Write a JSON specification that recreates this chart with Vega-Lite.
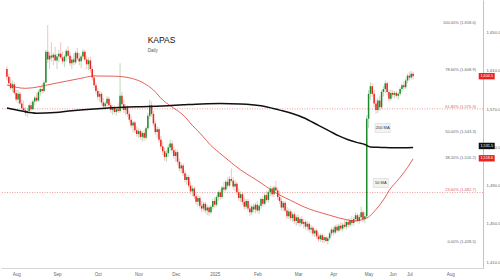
{
"$schema":"https://vega.github.io/schema/vega-lite/v6.json",
"width":500,"height":280,
"autosize":{"type":"fit","contains":"padding"},
"padding":{"left":0,"top":0,"right":0,"bottom":4},
"background":"white",
"config":{"view":{"stroke":null},"font":"Liberation Sans"},
"datasets":{
"candles":[
{"t":0,"o":1612,"h":1615,"l":1600,"c":1604},{"t":1,"o":1604,"h":1607,"l":1594,"c":1597},{"t":2,"o":1597,"h":1603,"l":1590,"c":1592},{"t":3,"o":1592,"h":1600,"l":1588,"c":1596},{"t":4,"o":1596,"h":1598,"l":1585,"c":1587},{"t":5,"o":1587,"h":1590,"l":1578,"c":1580},{"t":6,"o":1580,"h":1590,"l":1576,"c":1586},{"t":7,"o":1586,"h":1588,"l":1574,"c":1576},{"t":8,"o":1576,"h":1580,"l":1568,"c":1571},{"t":9,"o":1571,"h":1579,"l":1567,"c":1569},
{"t":10,"o":1569,"h":1572,"l":1563,"c":1566},{"t":11,"o":1566,"h":1571,"l":1562,"c":1568},{"t":12,"o":1568,"h":1576,"l":1566,"c":1574},{"t":13,"o":1574,"h":1578,"l":1568,"c":1570},{"t":14,"o":1570,"h":1580,"l":1569,"c":1578},{"t":15,"o":1578,"h":1584,"l":1574,"c":1582},{"t":16,"o":1582,"h":1587,"l":1577,"c":1579},{"t":17,"o":1579,"h":1590,"l":1578,"c":1588},{"t":18,"o":1588,"h":1594,"l":1584,"c":1591},{"t":19,"o":1591,"h":1597,"l":1586,"c":1589},
{"t":20,"o":1589,"h":1600,"l":1587,"c":1598},{"t":21,"o":1598,"h":1632,"l":1597,"c":1630},{"t":22,"o":1630,"h":1658,"l":1618,"c":1622},{"t":23,"o":1622,"h":1630,"l":1612,"c":1626},{"t":24,"o":1626,"h":1640,"l":1620,"c":1624},{"t":25,"o":1624,"h":1629,"l":1616,"c":1627},{"t":26,"o":1627,"h":1635,"l":1620,"c":1621},{"t":27,"o":1621,"h":1628,"l":1612,"c":1625},{"t":28,"o":1625,"h":1632,"l":1619,"c":1628},{"t":29,"o":1628,"h":1640,"l":1622,"c":1624},
{"t":30,"o":1624,"h":1630,"l":1617,"c":1620},{"t":31,"o":1620,"h":1627,"l":1614,"c":1625},{"t":32,"o":1625,"h":1633,"l":1620,"c":1631},{"t":33,"o":1631,"h":1636,"l":1622,"c":1626},{"t":34,"o":1626,"h":1630,"l":1615,"c":1618},{"t":35,"o":1618,"h":1625,"l":1612,"c":1622},{"t":36,"o":1622,"h":1628,"l":1616,"c":1619},{"t":37,"o":1619,"h":1631,"l":1617,"c":1629},{"t":38,"o":1629,"h":1634,"l":1621,"c":1623},{"t":39,"o":1623,"h":1629,"l":1616,"c":1620},
{"t":40,"o":1620,"h":1627,"l":1613,"c":1625},{"t":41,"o":1625,"h":1633,"l":1622,"c":1630},{"t":42,"o":1630,"h":1632,"l":1620,"c":1622},{"t":43,"o":1622,"h":1626,"l":1612,"c":1617},{"t":44,"o":1617,"h":1624,"l":1611,"c":1621},{"t":45,"o":1621,"h":1625,"l":1608,"c":1612},{"t":46,"o":1612,"h":1615,"l":1600,"c":1603},{"t":47,"o":1603,"h":1606,"l":1592,"c":1595},{"t":48,"o":1595,"h":1598,"l":1586,"c":1589},{"t":49,"o":1589,"h":1592,"l":1580,"c":1583},
{"t":50,"o":1583,"h":1589,"l":1578,"c":1586},{"t":51,"o":1586,"h":1588,"l":1574,"c":1577},{"t":52,"o":1577,"h":1582,"l":1570,"c":1573},{"t":53,"o":1573,"h":1578,"l":1569,"c":1576},{"t":54,"o":1576,"h":1584,"l":1573,"c":1581},{"t":55,"o":1581,"h":1583,"l":1572,"c":1574},{"t":56,"o":1574,"h":1577,"l":1566,"c":1569},{"t":57,"o":1569,"h":1574,"l":1564,"c":1571},{"t":58,"o":1571,"h":1574,"l":1565,"c":1567},{"t":59,"o":1567,"h":1572,"l":1563,"c":1570},
{"t":60,"o":1570,"h":1576,"l":1566,"c":1568},{"t":61,"o":1568,"h":1618,"l":1566,"c":1584},{"t":62,"o":1584,"h":1588,"l":1572,"c":1575},{"t":63,"o":1575,"h":1580,"l":1566,"c":1569},{"t":64,"o":1569,"h":1575,"l":1564,"c":1572},{"t":65,"o":1572,"h":1574,"l":1562,"c":1565},{"t":66,"o":1565,"h":1568,"l":1556,"c":1559},{"t":67,"o":1559,"h":1563,"l":1550,"c":1553},{"t":68,"o":1553,"h":1558,"l":1546,"c":1556},{"t":69,"o":1556,"h":1558,"l":1545,"c":1548},
{"t":70,"o":1548,"h":1552,"l":1541,"c":1544},{"t":71,"o":1544,"h":1550,"l":1540,"c":1547},{"t":72,"o":1547,"h":1549,"l":1538,"c":1541},{"t":73,"o":1541,"h":1547,"l":1536,"c":1545},{"t":74,"o":1545,"h":1548,"l":1537,"c":1540},{"t":75,"o":1540,"h":1552,"l":1538,"c":1550},{"t":76,"o":1550,"h":1566,"l":1548,"c":1563},{"t":77,"o":1563,"h":1580,"l":1560,"c":1574},{"t":78,"o":1574,"h":1578,"l":1562,"c":1565},{"t":79,"o":1565,"h":1568,"l":1552,"c":1555},
{"t":80,"o":1555,"h":1558,"l":1543,"c":1546},{"t":81,"o":1546,"h":1552,"l":1540,"c":1549},{"t":82,"o":1549,"h":1551,"l":1535,"c":1538},{"t":83,"o":1538,"h":1542,"l":1528,"c":1531},{"t":84,"o":1531,"h":1536,"l":1522,"c":1526},{"t":85,"o":1526,"h":1530,"l":1516,"c":1520},{"t":86,"o":1520,"h":1527,"l":1515,"c":1524},{"t":87,"o":1524,"h":1533,"l":1520,"c":1530},{"t":88,"o":1530,"h":1538,"l":1526,"c":1534},{"t":89,"o":1534,"h":1537,"l":1524,"c":1527},
{"t":90,"o":1527,"h":1531,"l":1518,"c":1521},{"t":91,"o":1521,"h":1528,"l":1515,"c":1525},{"t":92,"o":1525,"h":1527,"l":1512,"c":1515},{"t":93,"o":1515,"h":1518,"l":1505,"c":1508},{"t":94,"o":1508,"h":1514,"l":1503,"c":1511},{"t":95,"o":1511,"h":1513,"l":1500,"c":1503},{"t":96,"o":1503,"h":1506,"l":1493,"c":1496},{"t":97,"o":1496,"h":1502,"l":1491,"c":1499},{"t":98,"o":1499,"h":1501,"l":1487,"c":1490},{"t":99,"o":1490,"h":1494,"l":1481,"c":1484},
{"t":100,"o":1484,"h":1490,"l":1479,"c":1487},{"t":101,"o":1487,"h":1489,"l":1476,"c":1479},{"t":102,"o":1479,"h":1483,"l":1470,"c":1473},{"t":103,"o":1473,"h":1480,"l":1468,"c":1477},{"t":104,"o":1477,"h":1479,"l":1466,"c":1469},{"t":105,"o":1469,"h":1474,"l":1462,"c":1466},{"t":106,"o":1466,"h":1473,"l":1463,"c":1471},{"t":107,"o":1471,"h":1473,"l":1461,"c":1464},{"t":108,"o":1464,"h":1470,"l":1459,"c":1467},{"t":109,"o":1467,"h":1469,"l":1458,"c":1462},
{"t":110,"o":1462,"h":1470,"l":1460,"c":1468},{"t":111,"o":1468,"h":1476,"l":1465,"c":1474},{"t":112,"o":1474,"h":1478,"l":1467,"c":1470},{"t":113,"o":1470,"h":1480,"l":1468,"c":1478},{"t":114,"o":1478,"h":1485,"l":1474,"c":1483},{"t":115,"o":1483,"h":1486,"l":1475,"c":1478},{"t":116,"o":1478,"h":1490,"l":1476,"c":1488},{"t":117,"o":1488,"h":1494,"l":1483,"c":1486},{"t":118,"o":1486,"h":1496,"l":1484,"c":1494},{"t":119,"o":1494,"h":1499,"l":1487,"c":1490},
{"t":120,"o":1490,"h":1500,"l":1488,"c":1497},{"t":121,"o":1497,"h":1508,"l":1493,"c":1495},{"t":122,"o":1495,"h":1499,"l":1486,"c":1489},{"t":123,"o":1489,"h":1496,"l":1484,"c":1492},{"t":124,"o":1492,"h":1494,"l":1480,"c":1483},{"t":125,"o":1483,"h":1487,"l":1474,"c":1477},{"t":126,"o":1477,"h":1484,"l":1473,"c":1481},{"t":127,"o":1481,"h":1483,"l":1470,"c":1473},{"t":128,"o":1473,"h":1478,"l":1465,"c":1468},{"t":129,"o":1468,"h":1476,"l":1465,"c":1474},
{"t":130,"o":1474,"h":1476,"l":1463,"c":1466},{"t":131,"o":1466,"h":1470,"l":1458,"c":1462},{"t":132,"o":1462,"h":1470,"l":1459,"c":1468},{"t":133,"o":1468,"h":1471,"l":1462,"c":1465},{"t":134,"o":1465,"h":1472,"l":1461,"c":1470},{"t":135,"o":1470,"h":1474,"l":1462,"c":1464},{"t":136,"o":1464,"h":1471,"l":1460,"c":1469},{"t":137,"o":1469,"h":1478,"l":1466,"c":1476},{"t":138,"o":1476,"h":1479,"l":1468,"c":1471},{"t":139,"o":1471,"h":1482,"l":1469,"c":1480},
{"t":140,"o":1480,"h":1484,"l":1473,"c":1475},{"t":141,"o":1475,"h":1485,"l":1472,"c":1483},{"t":142,"o":1483,"h":1490,"l":1479,"c":1487},{"t":143,"o":1487,"h":1489,"l":1478,"c":1481},{"t":144,"o":1481,"h":1490,"l":1478,"c":1488},{"t":145,"o":1488,"h":1495,"l":1483,"c":1485},{"t":146,"o":1485,"h":1488,"l":1475,"c":1478},{"t":147,"o":1478,"h":1484,"l":1471,"c":1474},{"t":148,"o":1474,"h":1477,"l":1464,"c":1467},{"t":149,"o":1467,"h":1474,"l":1463,"c":1472},
{"t":150,"o":1472,"h":1474,"l":1462,"c":1464},{"t":151,"o":1464,"h":1468,"l":1455,"c":1458},{"t":152,"o":1458,"h":1466,"l":1455,"c":1463},{"t":153,"o":1463,"h":1465,"l":1453,"c":1456},{"t":154,"o":1456,"h":1462,"l":1452,"c":1460},{"t":155,"o":1460,"h":1463,"l":1450,"c":1453},{"t":156,"o":1453,"h":1459,"l":1448,"c":1457},{"t":157,"o":1457,"h":1460,"l":1449,"c":1451},{"t":158,"o":1451,"h":1457,"l":1447,"c":1455},{"t":159,"o":1455,"h":1458,"l":1448,"c":1450},
{"t":160,"o":1450,"h":1455,"l":1445,"c":1452},{"t":161,"o":1452,"h":1454,"l":1444,"c":1447},{"t":162,"o":1447,"h":1453,"l":1443,"c":1450},{"t":163,"o":1450,"h":1452,"l":1441,"c":1444},{"t":164,"o":1444,"h":1449,"l":1440,"c":1446},{"t":165,"o":1446,"h":1448,"l":1437,"c":1440},{"t":166,"o":1440,"h":1445,"l":1436,"c":1443},{"t":167,"o":1443,"h":1445,"l":1434,"c":1437},{"t":168,"o":1437,"h":1441,"l":1431,"c":1434},{"t":169,"o":1434,"h":1440,"l":1431,"c":1438},
{"t":170,"o":1438,"h":1440,"l":1430,"c":1433},{"t":171,"o":1433,"h":1438,"l":1430,"c":1436},{"t":172,"o":1436,"h":1437,"l":1431,"c":1432},{"t":173,"o":1432,"h":1437,"l":1428.5,"c":1435},{"t":174,"o":1435,"h":1442,"l":1433,"c":1440},{"t":175,"o":1440,"h":1446,"l":1437,"c":1444},{"t":176,"o":1444,"h":1447,"l":1438,"c":1441},{"t":177,"o":1441,"h":1449,"l":1439,"c":1447},{"t":178,"o":1447,"h":1450,"l":1441,"c":1443},{"t":179,"o":1443,"h":1450,"l":1441,"c":1448},
{"t":180,"o":1448,"h":1452,"l":1443,"c":1445},{"t":181,"o":1445,"h":1451,"l":1442,"c":1449},{"t":182,"o":1449,"h":1454,"l":1445,"c":1447},{"t":183,"o":1447,"h":1454,"l":1444,"c":1452},{"t":184,"o":1452,"h":1455,"l":1446,"c":1449},{"t":185,"o":1449,"h":1456,"l":1447,"c":1454},{"t":186,"o":1454,"h":1458,"l":1448,"c":1451},{"t":187,"o":1451,"h":1457,"l":1448,"c":1455},{"t":188,"o":1455,"h":1462,"l":1452,"c":1459},{"t":189,"o":1459,"h":1461,"l":1451,"c":1453},
{"t":190,"o":1453,"h":1460,"l":1450,"c":1457},{"t":191,"o":1457,"h":1468,"l":1454,"c":1462},{"t":192,"o":1462,"h":1464,"l":1452,"c":1455},{"t":193,"o":1455,"h":1462,"l":1451,"c":1458},{"t":194,"o":1458,"h":1564,"l":1456,"c":1560},{"t":195,"o":1560,"h":1590,"l":1550,"c":1586},{"t":196,"o":1586,"h":1598,"l":1580,"c":1594},{"t":197,"o":1594,"h":1597,"l":1583,"c":1586},{"t":198,"o":1586,"h":1590,"l":1572,"c":1576},{"t":199,"o":1576,"h":1580,"l":1565,"c":1569},
{"t":200,"o":1569,"h":1582,"l":1566,"c":1579},{"t":201,"o":1579,"h":1584,"l":1568,"c":1572},{"t":202,"o":1572,"h":1590,"l":1570,"c":1588},{"t":203,"o":1588,"h":1594,"l":1583,"c":1591},{"t":204,"o":1591,"h":1600,"l":1587,"c":1597},{"t":205,"o":1597,"h":1599,"l":1585,"c":1588},{"t":206,"o":1588,"h":1591,"l":1578,"c":1581},{"t":207,"o":1581,"h":1590,"l":1579,"c":1587},{"t":208,"o":1587,"h":1590,"l":1582,"c":1585},{"t":209,"o":1585,"h":1589,"l":1581,"c":1587},
{"t":210,"o":1587,"h":1589,"l":1582,"c":1584},{"t":211,"o":1584,"h":1588,"l":1580,"c":1586},{"t":212,"o":1586,"h":1593,"l":1584,"c":1591},{"t":213,"o":1591,"h":1597,"l":1588,"c":1595},{"t":214,"o":1595,"h":1599,"l":1590,"c":1593},{"t":215,"o":1593,"h":1602,"l":1591,"c":1600},{"t":216,"o":1600,"h":1607,"l":1597,"c":1605},{"t":217,"o":1605,"h":1609,"l":1600,"c":1603},{"t":218,"o":1603,"h":1610,"l":1601,"c":1607},{"t":219,"o":1607,"h":1609,"l":1601,"c":1604.5}
],
"ma50":[
{"t":0,"v":1595.3},{"t":10,"v":1591.8},{"t":26,"v":1597},{"t":40,"v":1602.3},{"t":47,"v":1604.7},{"t":58,"v":1604.5},{"t":67,"v":1602.3},{"t":74,"v":1597},{"t":79,"v":1590},{"t":84,"v":1579.6},{"t":90,"v":1571},{"t":95,"v":1563.9},{"t":100,"v":1553},{"t":105,"v":1543},{"t":110,"v":1532},{"t":116,"v":1522},{"t":121,"v":1514},{"t":126,"v":1506.4},{"t":132,"v":1499},{"t":137,"v":1492.8},{"t":142,"v":1486},{"t":147,"v":1480.2},{"t":153,"v":1474.5},{"t":158,"v":1469.7},{"t":163,"v":1465.5},{"t":168,"v":1462.4},{"t":174,"v":1459},{"t":179,"v":1456.2},{"t":184,"v":1454},{"t":187,"v":1453},{"t":191,"v":1454},{"t":195,"v":1457.2},{"t":199,"v":1465},{"t":203,"v":1475},{"t":207,"v":1487.5},{"t":210,"v":1494},{"t":213,"v":1501.1},{"t":216,"v":1509},{"t":219,"v":1518}
],
"ma200":[
{"t":0,"v":1571.2},{"t":8,"v":1568},{"t":16,"v":1565.7},{"t":26,"v":1566.5},{"t":35,"v":1568.4},{"t":45,"v":1570},{"t":53,"v":1571},{"t":70,"v":1572.5},{"t":84,"v":1573.3},{"t":95,"v":1574.5},{"t":105,"v":1575.5},{"t":115,"v":1576},{"t":126,"v":1575.5},{"t":137,"v":1573.5},{"t":147,"v":1569},{"t":153,"v":1566},{"t":160,"v":1561},{"t":168,"v":1553},{"t":174,"v":1547},{"t":179,"v":1542},{"t":184,"v":1538},{"t":189,"v":1535},{"t":193,"v":1533},{"t":196,"v":1530.5},{"t":202,"v":1530},{"t":208,"v":1529.5},{"t":214,"v":1529.5},{"t":219,"v":1530}
],
"fib":[
{"label":"100.00% (1,658.0)","p":1658.0,"kind":"std"},
{"label":"78.60% (1,608.9)","p":1608.9,"kind":"std"},
{"label":"61.80% (1,570.3)","p":1570.3,"kind":"key"},
{"label":"50.00% (1,543.3)","p":1543.3,"kind":"std"},
{"label":"38.20% (1,516.2)","p":1516.2,"kind":"std"},
{"label":"23.60% (1,482.7)","p":1482.7,"kind":"key"},
{"label":"0.00% (1,428.5)","p":1428.5,"kind":"std"}
],
"tags":[
{"v":1604.5,"kind":"last"},{"v":1531.5,"kind":"ma200"},{"v":1518.6,"kind":"ma50"}
],
"notes":[
{"name":"200 MA","t":202.6,"p":1550.3},{"name":"50 MA","t":201.6,"p":1492.8}
]
},
"layer":[
{"data":{"name":"fib"},"transform":[{"filter":"datum.kind=='std'"}],
 "mark":{"type":"rule","stroke":"#9a9a9a","strokeWidth":0.7,"strokeDash":[2,2]},
 "encoding":{
  "x":{"field":"t","type":"quantitative","scale":{"domain":[-0.5,254],"nice":false,"zero":false},
   "axis":{"title":null,"values":[5,27,49,71,91,112,135,157,176,195,208,217,239],
    "labelExpr":"['Aug','Sep','Oct','Nov','Dec','2025','Feb','Mar','Apr','May','Jun','Jul','Aug'][indexof([5,27,49,71,91,112,135,157,176,195,208,217,239], datum.value)]",
    "grid":false,"ticks":false,"domainColor":"#bbbbbb","domainWidth":0.6,"labelFontSize":4.5,"labelColor":"#666666","labelPadding":3,"labelFlush":false,"labelOverlap":false}},
  "y":{"field":"p","type":"quantitative","scale":{"domain":[1403.8,1684.2],"nice":false,"zero":false},
   "axis":{"title":null,"orient":"right","values":[1410,1420,1430,1440,1450,1460,1470,1480,1490,1500,1510,1520,1530,1540,1550,1560,1570,1580,1590,1600,1610,1620,1630,1640,1650,1660,1670,1680],
    "format":",.1f","grid":false,"ticks":false,"domainColor":"#999999","domainWidth":0.6,"labelFontSize":4.2,"labelColor":"#666666","labelPadding":3,"labelFlush":false,"labelOverlap":false}}
 }},
{"data":{"name":"fib"},"transform":[{"filter":"datum.kind=='key'"}],
 "mark":{"type":"rule","stroke":"#e57373","strokeWidth":0.7,"strokeDash":[1,1.5]},
 "encoding":{"y":{"field":"p","type":"quantitative"}}},
{"data":{"name":"fib"},
 "mark":{"type":"text","align":"right","baseline":"bottom","dy":-0.3,"fontSize":4},
 "encoding":{"x":{"datum":252.9},"y":{"field":"p","type":"quantitative"},"text":{"field":"label"},
  "color":{"condition":{"test":"datum.kind=='key'","value":"#e06060"},"value":"#666666"}}},
{"data":{"name":"candles"},
 "mark":{"type":"rule","strokeWidth":0.7},
 "encoding":{"x":{"field":"t","type":"quantitative"},"y":{"field":"l","type":"quantitative"},"y2":{"field":"h"},
  "color":{"condition":{"test":"datum.c>=datum.o","value":"#9ccc9f"},"value":"#f2a7a3"}}},
{"data":{"name":"candles"},
 "mark":{"type":"bar","size":1.5},
 "encoding":{"x":{"field":"t","type":"quantitative"},"y":{"field":"o","type":"quantitative"},"y2":{"field":"c"},
  "color":{"condition":{"test":"datum.c>=datum.o","value":"#1f8a2c"},"value":"#e8231d"}}},
{"data":{"name":"ma50"},
 "mark":{"type":"line","stroke":"#e0392f","strokeWidth":0.8,"interpolate":"monotone"},
 "encoding":{"x":{"field":"t","type":"quantitative"},"y":{"field":"v","type":"quantitative"}}},
{"data":{"name":"ma200"},
 "mark":{"type":"line","stroke":"#111111","strokeWidth":1.5,"interpolate":"monotone"},
 "encoding":{"x":{"field":"t","type":"quantitative"},"y":{"field":"v","type":"quantitative"}}},
{"data":{"name":"notes"},
 "mark":{"type":"point","shape":"M-1,-0.6H1V0.6H-1Z","size":225,"filled":true,"fill":"#f3f3f3","stroke":"#cccccc","strokeWidth":0.5,"opacity":1},
 "encoding":{"x":{"field":"t","type":"quantitative"},"y":{"field":"p","type":"quantitative"}}},
{"data":{"name":"notes"},
 "mark":{"type":"text","fontSize":4,"color":"#333333","align":"center","baseline":"middle"},
 "encoding":{"x":{"field":"t","type":"quantitative"},"y":{"field":"p","type":"quantitative"},"text":{"field":"name"}}},
{"data":{"name":"tags"},
 "mark":{"type":"point","shape":"M-1,-0.4H1V0.4H-1Z","size":256,"filled":true,"opacity":1,"strokeWidth":0},
 "encoding":{"x":{"datum":258.7},"y":{"field":"v","type":"quantitative"},
  "fill":{"condition":{"test":"datum.kind=='ma200'","value":"#111111"},"value":"#e8231d"}}},
{"data":{"name":"tags"},
 "mark":{"type":"text","fontSize":3.8,"color":"white","align":"center","baseline":"middle"},
 "encoding":{"x":{"datum":258.7},"y":{"field":"v","type":"quantitative"},"text":{"field":"v","type":"quantitative","format":",.1f"}}},
{"data":{"values":[{"txt":"KAPAS"}]},
 "mark":{"type":"text","align":"left","baseline":"alphabetic","fontSize":8.5,"color":"#111111"},
 "encoding":{"x":{"datum":75.9},"y":{"datum":1639},"text":{"field":"txt"}}},
{"data":{"values":[{"txt":"Daily"}]},
 "mark":{"type":"text","align":"left","baseline":"alphabetic","fontSize":4.5,"color":"#555555"},
 "encoding":{"x":{"datum":75.9},"y":{"datum":1630.3},"text":{"field":"txt"}}}
]
}
